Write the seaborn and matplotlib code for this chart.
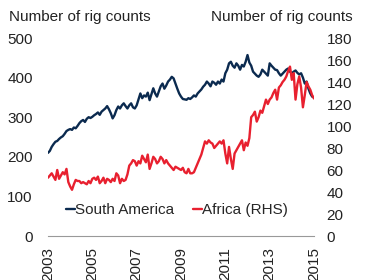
import numpy as np
import pandas as pd
import matplotlib
matplotlib.use("Agg")
import matplotlib.pyplot as plt
import seaborn as sns

start_year = 2003
south_america = [
    210, 215, 225, 232, 238, 240, 245, 249, 252, 258, 265, 268,
    270, 268, 274, 272, 278, 285, 290, 293, 288, 296, 300, 298,
    301, 305, 308, 312, 306, 314, 318, 322, 328, 320, 310, 297,
    305, 318, 327, 322, 330, 335, 328, 322, 330, 335, 325, 322,
    330, 345, 360, 348, 355, 352, 362, 343, 358, 373, 360, 352,
    365, 378, 385, 372, 380, 390, 395, 402, 398, 385, 372, 360,
    352, 346, 345, 344, 348, 346, 350, 355, 352, 360, 365, 370,
    377, 382, 390, 385, 378, 390, 387, 382, 390, 385, 395, 390,
    411, 420, 436, 440, 430, 425, 436, 430, 420, 432, 428, 440,
    457, 438, 430, 415, 410, 405, 402, 408, 420, 415, 410, 405,
    436, 430, 425, 420, 419, 411, 405, 410, 415, 420, 423, 415,
    411, 415, 418, 412, 408, 411, 400, 385, 390, 372, 360, 352,
    350,
]
africa = [
    53, 55, 57, 54, 51, 60, 52, 55, 58, 56, 61, 49,
    45, 42, 47, 51, 50, 50, 48, 49, 48, 47, 50, 48,
    52, 53, 51, 54, 48, 50, 53, 48, 52, 51, 49, 52,
    50, 57, 55, 48, 52, 50, 51, 56, 64, 66, 69, 68,
    64, 68, 66, 73, 70, 67, 74, 61, 66, 72, 70, 66,
    68, 72, 70, 66, 69, 66, 64, 62, 60, 63, 62, 61,
    60, 62, 58, 57, 61, 57, 57, 58, 62, 66, 70, 74,
    80, 86, 84, 87, 85, 84, 80, 82, 84, 86, 84, 87,
    75, 66, 81, 70, 61, 75, 78, 81, 84, 87, 78, 85,
    82, 89, 108, 110, 113, 104, 108, 114, 112, 118, 124, 120,
    124, 126, 130, 133, 124, 135, 137, 140, 142, 145, 150, 154,
    142, 148, 124, 138, 145, 135, 117, 128, 140, 136, 133, 128,
    125,
]
year_ticks = [2003, 2005, 2007, 2009, 2011, 2013, 2015]
left_ticks = [0, 100, 200, 300, 400, 500]
right_ticks = [0, 20, 40, 60, 80, 100, 120, 140, 160, 180]

df = pd.DataFrame({
    "t": [start_year + i / 12 for i in range(len(south_america))],
    "sa": south_america,
    "af": africa,
})

sns.set_style("white")
plt.rcParams["font.family"] = ["Liberation Sans", "DejaVu Sans"]
fs = 11
navy = "#0B2A4F"
red = "#E8202F"

fig = plt.figure(figsize=(3.67, 2.8), dpi=100)
ax = fig.add_axes([48/367, 1-236/280, (314-48)/367, (236-38)/280])
ax2 = ax.twinx()

sns.lineplot(data=df, x="t", y="sa", ax=ax, color=navy, lw=1.7, label="South America", legend=False)
sns.lineplot(data=df, x="t", y="af", ax=ax2, color=red, lw=1.7, label="Africa (RHS)", legend=False)

ax.set_xlim(2003, 2015)
ax.set_ylim(0, 500)
ax2.set_ylim(0, 180)
ax.set_yticks(left_ticks)
ax2.set_yticks(right_ticks)
ax.set_xticks(year_ticks)
ax.set_xticklabels([str(y) for y in year_ticks], rotation=90, fontsize=fs)
ax.set_yticklabels([str(v) for v in left_ticks], fontsize=fs)
ax2.set_yticklabels([str(v) for v in right_ticks], fontsize=fs)
ax.tick_params(axis="y", length=0, pad=11, colors="#222222")
ax2.tick_params(axis="y", length=0, pad=9, colors="#222222")
ax.tick_params(axis="x", length=0, pad=8, colors="#222222")
ax.set_xlabel("")
ax.set_ylabel("")
ax2.set_ylabel("")
for a in (ax, ax2):
    for s in ["top", "left", "right", "bottom"]:
        a.spines[s].set_visible(False)
    a.grid(False)
ax.spines["bottom"].set_visible(True)
ax.spines["bottom"].set_color("#999999")
ax.spines["bottom"].set_linewidth(0.8)

fig.text(9/367, 1-17/280, "Number of rig counts", fontsize=fs, va="center", ha="left", color="#222222")
fig.text(353/367, 1-17/280, "Number of rig counts", fontsize=fs, va="center", ha="right", color="#222222")

h1, l1 = ax.get_legend_handles_labels()
h2, l2 = ax2.get_legend_handles_labels()
fig.legend(h1 + h2, l1 + l2, loc="center", bbox_to_anchor=(177/367, 1-210/280), ncol=2,
           frameon=False, fontsize=fs, handlelength=0.6, handletextpad=0.0,
           columnspacing=1.2, borderaxespad=0)

fig.savefig("out.png", dpi=100)
